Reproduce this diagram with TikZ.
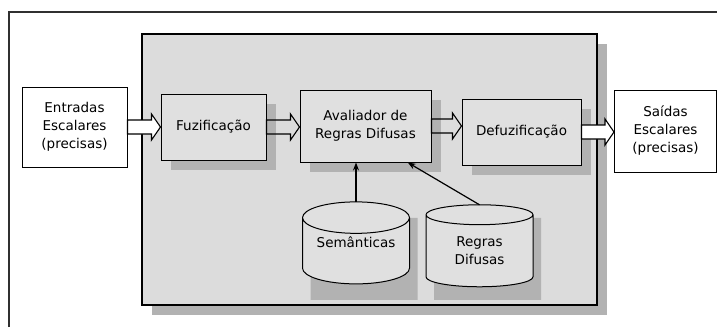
\documentclass[tikz,border=0pt]{standalone}
\usepackage{fontspec}
\setmainfont{DejaVu Sans}
\usetikzlibrary{shapes.geometric,shadows,calc,arrows.meta}

\definecolor{panelgray}{HTML}{DCDCDC}
\definecolor{boxgray}{HTML}{E0E0E0}
\definecolor{shadegray}{HTML}{B2B2B2}
\definecolor{framegray}{HTML}{303030}

\tikzset{
  dropshade/.style={drop shadow={shadow xshift=10pt, shadow yshift=-10pt,
    fill=shadegray, opacity=1}},
  iobox/.style={draw, fill=white, line width=1pt, align=center, inner sep=0pt},
  procbox/.style={draw, fill=boxgray, line width=1pt, align=center,
    inner sep=0pt, dropshade},
  database/.style={cylinder, shape border rotate=90, aspect=0.4, draw,
    line width=1pt, fill=boxgray, minimum width=107pt, minimum height=82pt,
    inner sep=0pt, outer sep=0pt, align=center},
  dbshade/.style={database, draw=none, fill=shadegray},
  blockarrow/.style={draw, line width=1.1pt, line join=miter},
  rulearrow/.style={draw, line width=1.2pt, -{Stealth[length=8pt,width=6pt]}}
}

% hollow block arrow from the east side of #1 to the west side of #2
\newcommand{\flowarrow}[3]{%
  \path[blockarrow, fill=#3] let \p1=(#1.east), \p2=(#2.west) in
    (\x1,\y1+7pt) -- (\x2-9pt,\y1+7pt) -- (\x2-9pt,\y1+13pt) -- (\x2,\y1)
    -- (\x2-9pt,\y1-13pt) -- (\x2-9pt,\y1-7pt) -- (\x1,\y1-7pt) -- cycle;
}

\begin{document}
\begin{tikzpicture}[x=1pt, y=-1pt, font=\fontsize{13.5}{18}\selectfont]
\useasboundingbox (0,0) rectangle (717,327);

% outer frame (only the top and left sides show)
\draw[framegray, line width=1.3pt] (9,327) -- (9,12) -- (717,12);

% the grey panel of the fuzzy system
\node[draw, fill=panelgray, line width=1.2pt, minimum width=455pt,
  minimum height=271pt, inner sep=0pt, dropshade] (panel) at (369.5,169.5) {};

% input and output
\node[iobox, minimum width=105pt, minimum height=80pt] (ent) at (74.5,127)
  {Entradas\\Escalares\\(precisas)};
\node[iobox, minimum width=102pt, minimum height=82pt] (sai) at (665.5,131)
  {Saídas\\Escalares\\(precisas)};

% processing stages
\node[procbox, minimum width=105pt, minimum height=66pt] (fuz) at (213.5,127)
  {Fuzificação};
\node[procbox, minimum width=131pt, minimum height=72pt] (aval) at (365.5,126)
  {Avaliador de\\Regras Difusas};
\node[procbox, minimum width=119pt, minimum height=66pt] (defuz) at (521.5,132)
  {Defuzificação};

% knowledge bases, each over its shadow
\node[dbshade] (semshade) at (364,259) {};
\node[dbshade] (regshade) at (487.5,259) {};
\node[database] (sem) at (356,251) {Semânticas\\\phantom{X}};
\node[database] (reg) at (479.5,251) {Regras\\Difusas};

% block arrows along the chain
\flowarrow{ent}{fuz}{white}
\flowarrow{fuz}{aval}{none}
\flowarrow{aval}{defuz}{none}
\flowarrow{defuz}{sai}{white}

% rule inputs
\coordinate (avalin) at ($(aval.south west)!0.82!(aval.south east)$);
\draw[rulearrow] (sem.north) -- (sem.north |- aval.south);
\draw[rulearrow] (reg.north) -- (avalin);
\end{tikzpicture}
\end{document}
